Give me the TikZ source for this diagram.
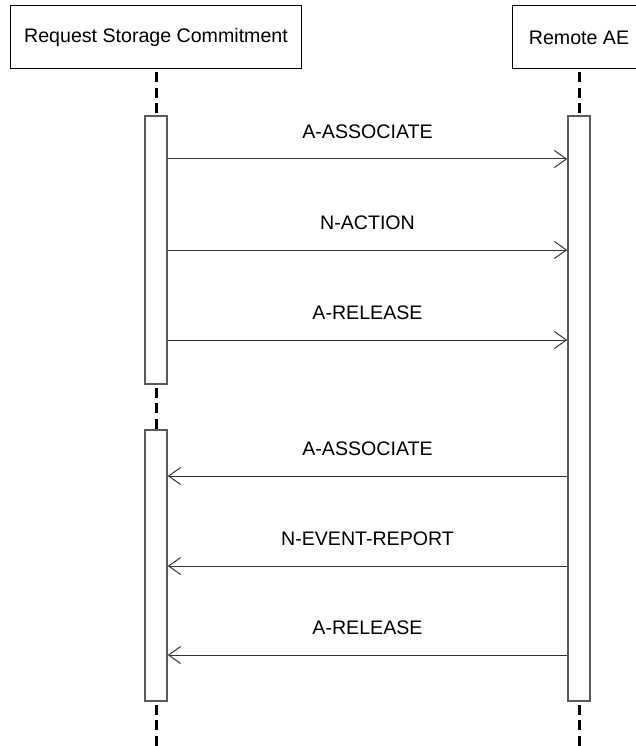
\documentclass[tikz,border=0pt]{standalone}
\usepackage{fontspec}
\setmainfont{Liberation Sans}
\usetikzlibrary{arrows.meta}
\begin{document}
\begin{tikzpicture}[x=1pt,y=-1pt,
  head/.style={draw=black, line width=1pt, fill=white, minimum height=63pt, inner sep=0pt, font=\fontsize{19.6}{23.5}\selectfont},
  act/.style={draw=black!65, line width=1.5pt, fill=white, minimum width=22pt, inner sep=0pt},
  life/.style={line width=3pt, dash pattern=on 10pt off 5.5pt, dash phase=-3pt},
  msg/.style={draw=black!80, line width=1pt, -{Straight Barb[length=12pt,width=17pt,line width=1pt]}},
  lbl/.style={font=\fontsize{19.6}{23.5}\selectfont, anchor=base, inner sep=0pt, yshift=20.5pt}]
\useasboundingbox (0,0) rectangle (636,746);
\begin{scope}
\clip (0,0) rectangle (636,746);
% lifeline heads
\node[head, minimum width=291pt] (rsc) at (156,37.5) {Request Storage Commitment};
\node[head, minimum width=134pt] (rae) at (579,37.5) {Remote AE};
% activation boxes
\node[act, minimum height=268pt] (la1) at (156,250) {};
\node[act, minimum height=271pt] (la2) at (156,565.5) {};
\node[act, minimum height=585pt] (ra) at (579,408.5) {};
% lifeline ends
\coordinate (lend) at (156,750);
\coordinate (rend) at (579,750);
% lifelines
\draw[life] (rsc.south) -- (la1.north);
\draw[life] (la1.south) -- (la2.north);
\draw[life] (la2.south) -- (lend);
\draw[life] (rae.south) -- (ra.north);
\draw[life] (ra.south) -- (rend);
% redraw boxes over lifelines
\node[act, minimum height=268pt] at (la1) {};
\node[act, minimum height=271pt] at (la2) {};
\node[act, minimum height=585pt] at (ra) {};
% message levels
\coordinate (y1) at (0,159);
\coordinate (y2) at (0,250);
\coordinate (y3) at (0,340);
\coordinate (y4) at (0,476);
\coordinate (y5) at (0,566);
\coordinate (y6) at (0,655);
% messages
\draw[msg] (la1.east |- y1) -- node[lbl] (t1) {A-ASSOCIATE} (ra.west |- y1);
\draw[msg] (la1.east |- y2) -- node[lbl] (t2) {N-ACTION} (ra.west |- y2);
\draw[msg] (la1.east |- y3) -- node[lbl] (t3) {A-RELEASE} (ra.west |- y3);
\draw[msg] (ra.west |- y4) -- node[lbl] (t4) {A-ASSOCIATE} (la2.east |- y4);
\draw[msg] (ra.west |- y5) -- node[lbl] (t5) {N-EVENT-REPORT} (la2.east |- y5);
\draw[msg] (ra.west |- y6) -- node[lbl] (t6) {A-RELEASE} (la2.east |- y6);
\end{scope}
\end{tikzpicture}
\end{document}
